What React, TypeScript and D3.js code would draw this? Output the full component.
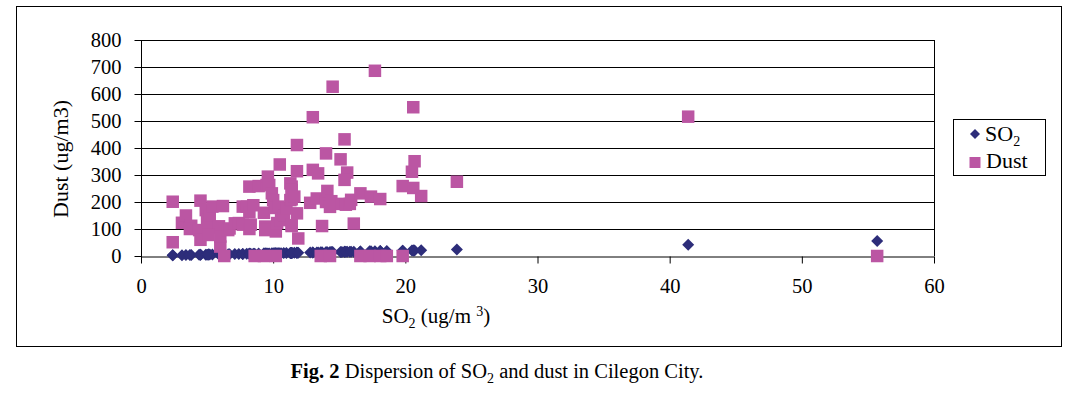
import React, { useEffect, useRef } from "react";
import * as d3 from "d3";

// SO2 readings (ug/m3), paired with dust readings below
const so2Values = [
  2.4, 2.4, 3.1, 3.4, 3.8, 3.7, 4.5, 4.4, 4.5, 4.9, 5.0, 5.2, 5.1, 5.4, 5.9, 6.0, 6.0, 6.2, 6.3, 6.6,
  6.7, 5.1, 7.1, 7.4, 7.7, 7.7, 8.0, 8.2, 8.2, 8.2, 8.3, 8.5, 8.9, 9.3, 9.4, 9.4, 9.5, 9.6, 9.7, 9.9,
  10.0, 10.1, 10.2, 10.3, 10.4, 10.5, 10.6, 10.8, 11.0, 11.3, 11.4, 11.3, 11.4, 11.4, 11.4, 11.6, 11.8, 11.8, 11.8, 11.4,
  11.9, 12.8, 13.0, 13.0, 13.4, 13.3, 13.7, 14.0, 14.0, 14.1, 14.3, 14.4, 14.5, 15.1, 15.4, 15.6, 15.4, 15.2, 15.5, 15.8,
  15.9, 16.1, 16.6, 17.4, 17.7, 18.1, 19.8, 20.6, 20.7, 20.5, 20.6, 21.2, 23.9, 41.4, 55.7,
  8.6, 9.3, 10.2, 13.6, 14.3, 16.6, 17.3, 18.1, 18.6, 19.8,
];
const dustValues = [
  201, 51, 123, 150, 112, 100, 205, 96, 60, 170, 136, 146, 104, 183, 110, 35, 72, 185, 0, 96,
  102, 78, 121, 122, 116, 183, 183, 257, 162, 100, 116, 188, 259, 160, 109, 96, 263, 294, 263, 232,
  207, 178, 91, 122, 183, 339, 133, 150, 176, 269, 257, 207, 244, 210, 114, 220, 314, 411, 158, 111,
  65, 197, 514, 319, 306, 213, 111, 380, 200, 241, 182, 203, 627, 358, 432, 309, 282, 193, 190, 193,
  208, 120, 232, 220, 686, 211, 259, 551, 351, 312, 252, 222, 275, 516, 0,
  0, 0, 0, 0, 0, 0, 0, 0, 0, 0,
];
const xTicks = [0, 10, 20, 30, 40, 50, 60];
const yTicks = [0, 100, 200, 300, 400, 500, 600, 700, 800];
const seriesNames = ["SO2", "Dust"];

const FONT = "'Palatino Linotype', 'Book Antiqua', Palatino, 'Liberation Serif', serif";
const SO2_COLOR = "#2d2d7a";
const DUST_COLOR = "#bb56a3";

export default function App() {
  const ref = useRef<SVGSVGElement>(null);

  useEffect(() => {
    const svg = d3.select(ref.current);
    svg.selectAll("*").remove();

    const x = d3.scaleLinear().domain([0, 60]).range([141, 934]);
    const y = d3.scaleLinear().domain([0, 800]).range([256, 40]);

    svg.append("rect").attr("width", 1077).attr("height", 395).attr("fill", "#fff");
    // outer chart frame
    svg.append("rect")
      .attr("x", 16.5).attr("y", 6.5).attr("width", 1045).attr("height", 340)
      .attr("fill", "none").attr("stroke", "#000").attr("stroke-width", 1);

    const g = svg.append("g");

    // gridlines
    g.selectAll(".grid").data(yTicks.slice(1)).enter().append("line")
      .attr("x1", x(0)).attr("x2", x(60))
      .attr("y1", (d) => Math.round(y(d)) + 0.5).attr("y2", (d) => Math.round(y(d)) + 0.5)
      .attr("stroke", "#000");
    // right border of plot
    g.append("line")
      .attr("x1", x(60) + 0.5).attr("x2", x(60) + 0.5).attr("y1", y(800)).attr("y2", y(0))
      .attr("stroke", "#000");

    // y axis
    const yAxis = g.append("g").attr("transform", "translate(" + (x(0) + 0.5) + ",0)")
      .call(d3.axisLeft(y).tickValues(yTicks).tickSize(7).tickSizeOuter(0).tickPadding(13));
    yAxis.select(".domain").attr("d", "M0," + y(800) + "V" + (y(0) + 7));
    yAxis.selectAll("text").attr("font-family", FONT).attr("font-size", 20.5).attr("fill", "#000");

    // x axis
    const xAxis = g.append("g").attr("transform", "translate(0," + (Math.round(y(0)) + 0.5) + ")")
      .call(d3.axisBottom(x).tickValues(xTicks).tickSize(7).tickSizeOuter(0).tickPadding(15));
    xAxis.selectAll("text").attr("font-family", FONT).attr("font-size", 20.5).attr("fill", "#000");

    const pts = so2Values.map((v, i) => ({ so2: v, dust: dustValues[i] }));

    // SO2 series: SO2 against itself
    g.selectAll(".so2").data(pts).enter().append("path")
      .attr("class", "so2")
      .attr("d", "M0,-6L6,0L0,6L-6,0Z")
      .attr("transform", (d) => "translate(" + x(d.so2) + "," + y(d.so2) + ")")
      .attr("fill", SO2_COLOR);

    // Dust series
    g.selectAll(".dust").data(pts).enter().append("rect")
      .attr("class", "dust")
      .attr("x", (d) => x(d.so2) - 6.25).attr("y", (d) => y(d.dust) - 6.25)
      .attr("width", 12.5).attr("height", 12.5)
      .attr("fill", DUST_COLOR);

    // axis titles
    svg.append("text")
      .attr("transform", "translate(68,159) rotate(-90)")
      .attr("text-anchor", "middle").attr("font-family", FONT).attr("font-size", 22)
      .text("Dust (ug/m3)");

    const xt = svg.append("text").attr("x", 436).attr("y", 323)
      .attr("text-anchor", "middle").attr("font-family", FONT).attr("font-size", 21);
    xt.append("tspan").text("SO");
    xt.append("tspan").attr("font-size", 14).attr("dy", 5).text("2");
    xt.append("tspan").attr("dy", -5).text(" (ug/m ");
    xt.append("tspan").attr("font-size", 14).attr("dy", -7).text("3");
    xt.append("tspan").attr("dy", 7).text(")");

    // legend
    const lg = svg.append("g");
    lg.append("rect").attr("x", 953.5).attr("y", 119.5).attr("width", 92).attr("height", 56)
      .attr("fill", "#fff").attr("stroke", "#000");
    lg.append("path").attr("d", "M975,129L980,134L975,139L970,134Z").attr("fill", SO2_COLOR);
    const l1 = lg.append("text").attr("x", 985).attr("y", 141).attr("font-family", FONT).attr("font-size", 22);
    l1.append("tspan").text(seriesNames[0].slice(0, 2));
    l1.append("tspan").attr("font-size", 14).attr("dy", 5).text(seriesNames[0].slice(2));
    lg.append("rect").attr("x", 969.5).attr("y", 157).attr("width", 11).attr("height", 11).attr("fill", DUST_COLOR);
    lg.append("text").attr("x", 986).attr("y", 168).attr("font-family", FONT).attr("font-size", 22)
      .text(seriesNames[1]);

    // caption
    const cap = svg.append("text").attr("x", 497).attr("y", 378)
      .attr("text-anchor", "middle").attr("font-family", FONT).attr("font-size", 20.5);
    cap.append("tspan").attr("font-weight", "bold").text("Fig. 2");
    cap.append("tspan").text(" Dispersion of SO");
    cap.append("tspan").attr("font-size", 14).attr("dy", 5).text("2");
    cap.append("tspan").attr("dy", -5).text(" and dust in Cilegon City.");
  }, []);

  return (
    <svg ref={ref} width={1077} height={395}
      style={{ position: "absolute", left: 0, top: 0, display: "block" }} />
  );
}
